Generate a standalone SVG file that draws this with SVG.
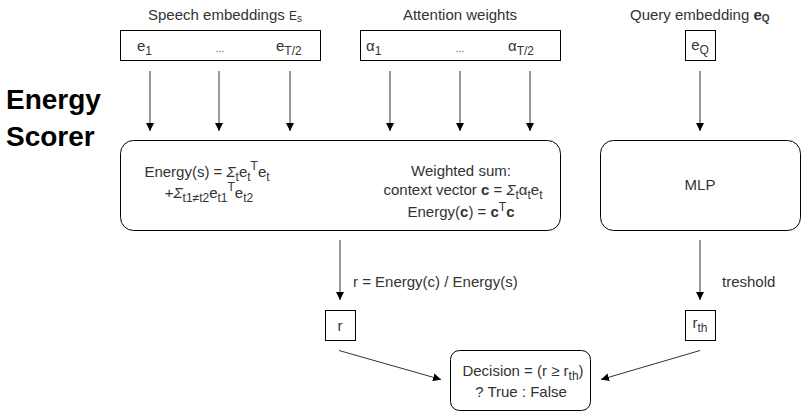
<svg xmlns="http://www.w3.org/2000/svg" width="801" height="411" viewBox="0 0 801 411">
<defs>
<marker id="arr" markerWidth="8" markerHeight="8" refX="8" refY="4" orient="auto" markerUnits="userSpaceOnUse">
<path d="M0,0 L8,4 L0,8 Z" fill="#000"/>
</marker>
<style>
text{font-family:"Liberation Sans",Arial,sans-serif;font-size:15px;fill:#333}
.box{fill:#fff;stroke:#000;stroke-width:1}
.edge{stroke:#333;stroke-width:1;fill:none;marker-end:url(#arr)}
.sub{font-size:12px}
.tiny{font-size:10px}
.dots{font-size:11px;fill:#666}
.title{font-size:28px;font-weight:bold;fill:#000}
.b{font-weight:bold}
.i{font-style:italic}
</style>
</defs>
<rect width="801" height="411" fill="#fff"/>
<g id="title">
<text class="title" x="6" y="109">Energy</text>
<text class="title" x="6" y="146">Scorer</text>
</g>
<g id="speech-embeddings">
<text x="148" y="20">Speech embeddings <tspan class="sub">E</tspan><tspan class="tiny" dy="2">s</tspan></text>
<rect class="box" x="120.5" y="30.5" width="200" height="30"/>
<text x="137" y="51">e<tspan class="sub" dy="4">1</tspan></text>
<text class="dots" x="220" y="52" text-anchor="middle">...</text>
<text x="276" y="51">e<tspan class="sub" dy="4">T/2</tspan></text>
</g>
<g id="attention-weights">
<text x="460" y="20" text-anchor="middle">Attention weights</text>
<rect class="box" x="360.5" y="30.5" width="200" height="30"/>
<text x="366" y="51">α<tspan class="sub" dy="4">1</tspan></text>
<text class="dots" x="460" y="52" text-anchor="middle">...</text>
<text x="508" y="51">α<tspan class="sub" dy="4">T/2</tspan></text>
</g>
<g id="query-embedding">
<text x="630" y="20">Query embedding <tspan class="b">e</tspan><tspan class="b tiny" dy="2">Q</tspan></text>
<rect class="box" x="685.5" y="30.5" width="30" height="30"/>
<text x="700" y="50" text-anchor="middle">e<tspan class="sub" dy="4">Q</tspan></text>
</g>
<g id="energy-box">
<rect class="box" x="120.5" y="140.5" width="440" height="90" rx="13" ry="13"/>
<text x="207" y="177" text-anchor="middle">Energy(s) = <tspan class="i">Σ</tspan><tspan class="sub" dy="4">t</tspan><tspan dy="-4">e</tspan><tspan class="sub" dy="4">t</tspan><tspan class="sub" dy="-11">T</tspan><tspan dy="7">e</tspan><tspan class="sub" dy="4">t</tspan></text>
<text x="209" y="198" text-anchor="middle">+<tspan class="i">Σ</tspan><tspan class="sub" dy="4">t1≠t2</tspan><tspan dy="-4">e</tspan><tspan class="sub" dy="4">t1</tspan><tspan class="sub" dy="-11">T</tspan><tspan dy="7">e</tspan><tspan class="sub" dy="4">t2</tspan></text>
<text x="461" y="176" text-anchor="middle">Weighted sum:</text>
<text x="463" y="195" text-anchor="middle">context vector <tspan class="b">c</tspan> = <tspan class="i">Σ</tspan><tspan class="sub" dy="4">t</tspan><tspan dy="-4">α</tspan><tspan class="sub" dy="4">t</tspan><tspan dy="-4">e</tspan><tspan class="sub" dy="4">t</tspan></text>
<text x="461" y="217" text-anchor="middle">Energy(<tspan class="b">c</tspan>) = <tspan class="b">c</tspan><tspan class="sub" dy="-6">T</tspan><tspan class="b" dy="6">c</tspan></text>
</g>
<g id="mlp">
<rect class="box" x="600.5" y="140.5" width="200" height="90" rx="13" ry="13"/>
<text x="700" y="190" text-anchor="middle">MLP</text>
</g>
<g id="r">
<rect class="box" x="325.5" y="310.5" width="30" height="30"/>
<text x="340" y="331" text-anchor="middle">r</text>
</g>
<g id="rth">
<rect class="box" x="685.5" y="310.5" width="30" height="30"/>
<text x="700" y="328" text-anchor="middle">r<tspan class="sub" dy="4">th</tspan></text>
</g>
<g id="decision">
<rect class="box" x="450.5" y="350.5" width="140" height="60" rx="9" ry="9"/>
<text x="523" y="376" text-anchor="middle">Decision = (r ≥ r<tspan class="sub" dy="4">th</tspan><tspan dy="-4">)</tspan></text>
<text x="521" y="397" text-anchor="middle">? True : False</text>
</g>
<g id="connectors">
<line class="edge" x1="150" y1="71" x2="150" y2="131"/>
<line class="edge" x1="219" y1="71" x2="219" y2="131"/>
<line class="edge" x1="290" y1="71" x2="290" y2="131"/>
<line class="edge" x1="390" y1="71" x2="390" y2="131"/>
<line class="edge" x1="460" y1="71" x2="460" y2="131"/>
<line class="edge" x1="530" y1="71" x2="530" y2="131"/>
<line class="edge" x1="700" y1="71" x2="700" y2="131"/>
<line class="edge" x1="340" y1="240" x2="340" y2="300"/>
<line class="edge" x1="700" y1="240" x2="700" y2="300"/>
<line class="edge" x1="339" y1="350.5" x2="441" y2="379.5"/>
<line class="edge" x1="700" y1="350.5" x2="601" y2="379.5"/>
<text x="353" y="287">r = Energy(c) / Energy(s)</text>
<text x="722" y="287">treshold</text>
</g>
</svg>
